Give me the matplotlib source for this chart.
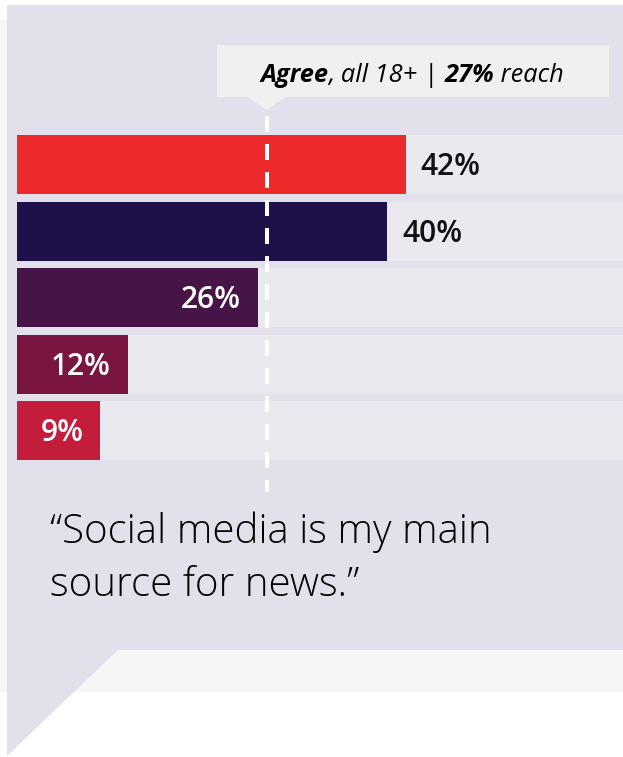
import matplotlib.pyplot as plt
from matplotlib.patches import Rectangle, Polygon

values = [42, 40, 26, 12, 9]
labels = ['42%', '40%', '26%', '12%', '9%']
colors = ['#ec2a2b', '#1e1048', '#461446', '#7a1541', '#c31d3b']
reach = 27
callout = [('Agree', 'bold'), (', all 18+ | ', 'normal'), ('27%', 'bold'), (' reach', 'normal')]
quote_lines = ['\u201cSocial media is my main', 'source for news.\u201d']

W, H = 623, 757
X0 = 17          # left edge of the bars, px
PX_PER_PCT = 9.25

fig = plt.figure(figsize=(W / 100, H / 100), dpi=100)
fig.patch.set_facecolor('white')

# backdrop, drawn in pixel coordinates
bg = fig.add_axes([0, 0, 1, 1])
bg.set_xlim(0, W)
bg.set_ylim(H, 0)
bg.axis('off')
bg.add_patch(Rectangle((0, 20), W, 672, color='#f6f6f6', lw=0))
bg.add_patch(Rectangle((7, 5), W - 7, 645, color='#e2e0eb', lw=0))
bg.add_patch(Polygon([(7, 649), (119, 649), (7, 756)], closed=True, color='#e2e0eb', lw=0))

# callout box with a pointer above the reach line
tip = X0 + reach * PX_PER_PCT
bg.add_patch(Rectangle((217, 45), 392, 52, color='#f0f0f0', lw=0))
bg.add_patch(Polygon([(tip - 20, 96.5), (tip + 20, 96.5), (tip, 110)], closed=True, color='#f0f0f0', lw=0))

r = fig.canvas.get_renderer()
pieces = []
for s, w in callout:
    t = bg.text(0, 81.5, s, fontsize=18.3, style='italic', weight=w, family='Open Sans',
                va='baseline', ha='left', color='black')
    pieces.append(t)
widths = [t.get_window_extent(r).width for t in pieces]
x = 412 - sum(widths) / 2
for t, w in zip(pieces, widths):
    t.set_x(x)
    x += w

# quote
for line, yb in zip(quote_lines, [543, 596]):
    bg.text(50, yb, line, fontsize=29, family='Open Sans', weight='light', va='baseline',
            ha='left', color='black')

# bars
ax = fig.add_axes([X0 / W, 1 - 464 / H, (W - X0) / W, 332.5 / H])
xmax = (W - X0) / PX_PER_PCT
ax.set_xlim(0, xmax)
ax.set_ylim(len(values) - 0.5, -0.5)
ax.axis('off')
rows = range(len(values))
ax.barh(rows, [xmax] * len(values), height=0.88, color='#eae9f0', lw=0)
ax.barh(rows, values, height=0.88, color=colors, lw=0)

for i, (v, lab) in enumerate(zip(values, labels)):
    if v < reach:
        ax.annotate(lab, (v, i), xytext=(-12.2, -1.8), textcoords='offset points', ha='right',
                    va='center', color='white', fontsize=21.5, family='Open Sans', weight='semibold')
    else:
        ax.annotate(lab, (v, i), xytext=(10.8, -1.8), textcoords='offset points', ha='left',
                    va='center', color='#111111', fontsize=21.5, family='Open Sans', weight='semibold')

# dashed reach line
ax.plot([reach, reach], [1.0466, -0.0842], transform=ax.get_xaxis_transform(),
        color='white', lw=2.88, ls=(0, (4, 3)), clip_on=False, zorder=5)

fig.savefig('out.png', dpi=100, facecolor='white')
